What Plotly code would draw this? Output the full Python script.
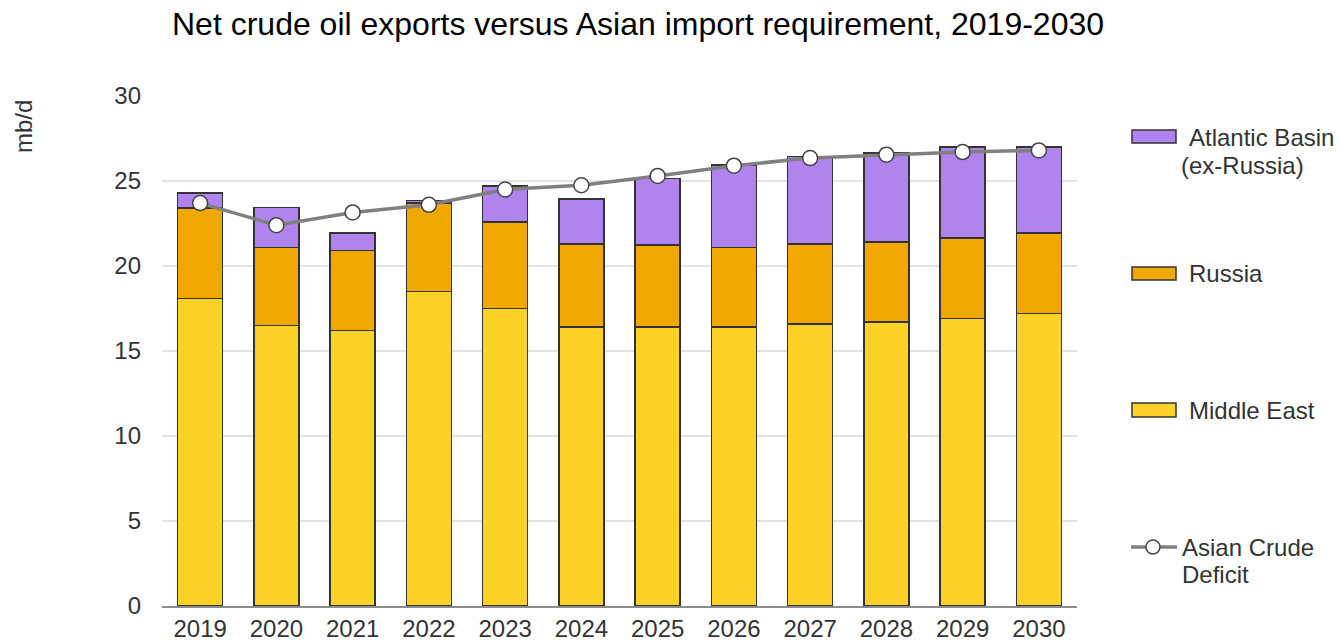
import plotly.graph_objects as go

# Years on the category axis
years = ["2019", "2020", "2021", "2022", "2023", "2024",
         "2025", "2026", "2027", "2028", "2029", "2030"]

# Net crude oil exports by region (mb/d), stacked
middle_east = [18.1, 16.5, 16.2, 18.5, 17.5, 16.4, 16.4, 16.4, 16.6, 16.7, 16.9, 17.2]
russia = [5.3, 4.6, 4.7, 5.2, 5.1, 4.9, 4.85, 4.7, 4.7, 4.7, 4.75, 4.75]
atlantic_basin = [0.9, 2.35, 1.05, 0.15, 2.1, 2.65, 3.9, 4.85, 5.15, 5.25, 5.35, 5.05]

# Asian crude import requirement (mb/d)
asian_deficit = [23.7, 22.4, 23.15, 23.6, 24.5, 24.75, 25.3, 25.9, 26.35, 26.55, 26.7, 26.8]

FONT = "Arial, Liberation Sans, sans-serif"
C_ME = "#FDD226"
C_RU = "#F0A800"
C_AB = "#B084EE"
OUTLINE = "#333333"

W, H = 1340, 641
L, R, T, B = 162, 263, 96, 35

fig = go.Figure()
for name, vals, col in [("Middle East", middle_east, C_ME),
                        ("Russia", russia, C_RU),
                        ("Atlantic Basin (ex-Russia)", atlantic_basin, C_AB)]:
    fig.add_trace(go.Bar(x=years, y=vals, name=name, marker_color=col,
                         marker_line=dict(color=OUTLINE, width=1.5),
                         showlegend=False))

fig.add_trace(go.Scatter(x=years, y=asian_deficit, name="Asian Crude Deficit",
                         mode="lines+markers",
                         line=dict(color="#808080", width=3.5),
                         marker=dict(size=15, color="white",
                                     line=dict(color="#444444", width=1.5)),
                         showlegend=False))


def px(x):
    return (x - L) / (W - L - R)


def py(y):
    return (H - B - y) / (H - T - B)


shapes = []
annotations = []

# Legend swatches and labels on the right-hand side
for col, y0, y1 in [(C_AB, 130, 143), (C_RU, 267, 280), (C_ME, 403, 417)]:
    shapes.append(dict(type="rect", xref="paper", yref="paper",
                       x0=px(1132), x1=px(1176), y0=py(y1), y1=py(y0),
                       fillcolor=col, line=dict(color=OUTLINE, width=1.5)))
shapes.append(dict(type="line", xref="paper", yref="paper",
                   x0=px(1131), x1=px(1177), y0=py(547), y1=py(547),
                   line=dict(color="#808080", width=3.5)))
shapes.append(dict(type="circle", xref="paper", yref="paper",
                   x0=px(1146), x1=px(1160), y0=py(554), y1=py(540),
                   fillcolor="white", line=dict(color="#444444", width=1.5)))

for text, x, y in [("Atlantic Basin", 1187, 137), ("(ex-Russia)", 1179, 166),
                   ("Russia", 1187, 273), ("Middle East", 1187, 410),
                   ("Asian Crude", 1180, 547), ("Deficit", 1180, 574)]:
    annotations.append(dict(text=text, xref="paper", yref="paper",
                            x=px(x), y=py(y), xanchor="left", yanchor="middle",
                            showarrow=False,
                            font=dict(family=FONT, size=24, color="#333333")))

# Rotated unit label near the top of the value axis
annotations.append(dict(text="mb/d", xref="paper", yref="paper",
                        x=px(23), y=py(127), xanchor="center", yanchor="middle",
                        textangle=-90, showarrow=False,
                        font=dict(family=FONT, size=24, color="#333333")))

fig.update_layout(
    width=W, height=H,
    margin=dict(l=L, r=R, t=T, b=B, autoexpand=False),
    paper_bgcolor="white", plot_bgcolor="white",
    barmode="stack", bargap=0.41,
    title=dict(text="Net crude oil exports versus Asian import requirement, 2019-2030",
               x=638 / W, xanchor="center", y=1 - 24 / H, yanchor="middle",
               font=dict(family=FONT, size=32, color="black")),
    font=dict(family=FONT, color="#333333"),
    shapes=shapes, annotations=annotations,
)
fig.update_xaxes(range=[-0.5, len(years) - 0.5], showgrid=False, showline=True,
                 linecolor="#8c8c8c", linewidth=2,
                 ticks="", tickfont=dict(size=24, color="#333333"),
                 ticklabelstandoff=0)
fig.update_yaxes(range=[0, 30], dtick=5, showgrid=True, gridcolor="#e3e3e3",
                 gridwidth=2, zeroline=False, showline=False, ticks="",
                 tickfont=dict(size=24, color="#333333"), ticklabelstandoff=20)

fig.write_html("out.html")
